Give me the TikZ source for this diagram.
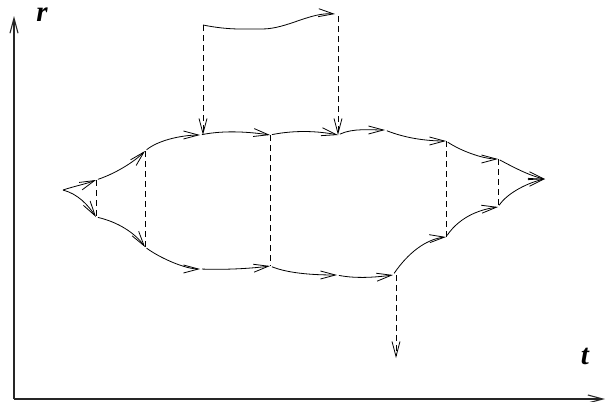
\documentclass[tikz,border=0pt]{standalone}
\usepackage{fontspec}
\setmainfont{Liberation Serif}
\usetikzlibrary{arrows.meta}

\begin{document}
\begin{tikzpicture}[x=1pt, y=-1pt,
   path/.style={line width=0.8pt, ->, shorten <=2pt},
   jump/.style={line width=0.8pt, dash pattern=on 6pt off 4pt},
   axis/.style={line width=1.1pt, black!85, ->},
   lab/.style={font=\fontsize{29}{31}\selectfont\bfseries\itshape},
   >={Straight Barb[length=15pt, width=8pt]}]
  \useasboundingbox (0,0) rectangle (606,402);
  \coordinate (o) at (14,399);
  \coordinate (top) at (14,16);
  \coordinate (right) at (605,399);
  \coordinate (s) at (63,190);
  \coordinate (a1) at (96,180);  \coordinate (b1) at (96,217);
  \coordinate (a2) at (145,151); \coordinate (b2) at (145,247);
  \coordinate (a3) at (200,135); \coordinate (b3) at (200,269);
  \coordinate (a4) at (270,135); \coordinate (b4) at (270,266);
  \coordinate (a5) at (338,135); \coordinate (b45) at (337,275);
  \coordinate (a55) at (385,130); \coordinate (b5) at (393,275);
  \coordinate (a6) at (446,141); \coordinate (b6) at (446,237);
  \coordinate (a7) at (498,159); \coordinate (b7) at (498,207);
  \coordinate (e) at (545,179);
  \coordinate (t1) at (203,25);  \coordinate (tm) at (262,29);
  \coordinate (t2) at (335,14);  \coordinate (t2d) at (338,16);
  \coordinate (down) at (396,358);
  \draw[axis] (o) -- (top);
  \draw[axis] (o) -- (right);
  \node[lab] (rlab) at (42,15) {r};
  \node[lab] (tlab) at (585,356) {t};
  \draw[path, shorten <=0pt] (s) .. controls +(12,-4) and +(-10,4) .. (a1);
  \draw[path, shorten <=0pt] (s) .. controls +(15,4) and +(-8,-12) .. (b1);
  \draw[path] (a1) .. controls +(18,-6) and +(-12,12) .. (a2);
  \draw[path] (b1) .. controls +(22,5) and +(-10,-14) .. (b2);
  \draw[path] (a2) .. controls +(15,-12) and +(-15,0) .. (a3);
  \draw[path] (b2) .. controls +(15,11) and +(-15,0) .. (b3);
  \draw[path] (a3) .. controls +(25,-5) and +(-20,-3) .. (a4);
  \draw[path] (b3) .. controls +(30,1) and +(-15,2) .. (b4);
  \draw[path] (a4) .. controls +(25,-5) and +(-20,-4) .. (a5);
  \draw[path] (b4) .. controls +(20,8) and +(-20,0) .. (b45);
  \draw[path] (a5) .. controls +(15,-7) and +(-15,0) .. (a55);
  \draw[path] (b45) .. controls +(20,4) and +(-15,2) .. (b5);
  \draw[path] (a55) .. controls +(20,8) and +(-20,0) .. (a6);
  \draw[path] (b5) .. controls +(15,-22) and +(-20,2) .. (b6);
  \draw[path] (a6) .. controls +(15,10) and +(-15,0) .. (a7);
  \draw[path] (b6) .. controls +(15,-22) and +(-15,2) .. (b7);
  \draw[path] (a7) .. controls +(15,8) and +(-15,-3) .. (e);
  \draw[path] (b7) .. controls +(10,-15) and +(-15,3) .. (e);
  \draw[path, shorten <=0pt] (t1) .. controls +(25,5) and +(-20,0) .. (tm)
     .. controls +(25,0) and +(-25,-2) .. (t2);
  \draw[jump] (a1) -- (b1);
  \draw[jump] (a2) -- (b2);
  \draw[jump] (a4) -- (b4);
  \draw[jump] (a6) -- (b6);
  \draw[jump] (a7) -- (b7);
  \draw[jump, ->] (t1) -- (t1 |- a3);
  \draw[jump, ->] (t2d) -- (a5);
  \draw[jump, ->] (b5 -| down) -- (down);
\end{tikzpicture}
\end{document}
